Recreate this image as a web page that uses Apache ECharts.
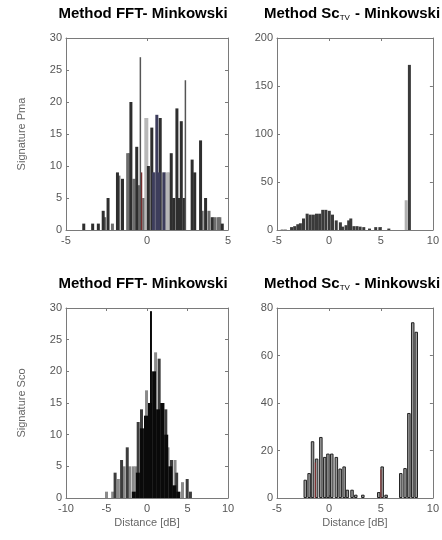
<!DOCTYPE html>
<html><head><meta charset="utf-8">
<script src="https://cdn.jsdelivr.net/npm/echarts@6/dist/echarts.min.js"></script>
<style>html,body{margin:0;padding:0;background:#fff}#c{width:442px;height:540px}</style>
</head><body><div id="c"></div>
<script>
// ---- Texts ----
const panelTitles = [
  '{a|Method FFT- Minkowski}',
  '{a|Method Sc}{s|TV}{a| - Minkowski}',
  '{a|Method FFT- Minkowski}',
  '{a|Method Sc}{s|TV}{a| - Minkowski}'
];
const yNames = ['Signature Pma', '', 'Signature Sco', ''];
const xNames = ['', '', 'Distance [dB]', 'Distance [dB]'];

// ---- Axis ranges [min, max, interval] ----
const xRanges = [[-5, 5, 5], [-5, 10, 5], [-10, 10, 5], [-5, 10, 5]];
const yRanges = [[0, 30, 5], [0, 200, 50], [0, 30, 5], [0, 80, 20]];

// ---- Panel 1: FFT, Signature Pma ----
const pmaFftDark = [[-3.95,1],[-3.4,1],[-3.05,1],[-2.75,3],[-2.45,5],[-1.87,9],[-1.56,8],[-1.04,20],[-0.68,13],
  [0.04,10],[0.25,16],[0.77,17.5],[1.45,12],[1.8,19],[2.07,17],[1.6,5],[1.95,5],[2.25,5],[2.74,11],[2.9,9],
  [3.26,14],[3.57,5],[3.98,2],[4.6,1]];
const pmaFftGray = [[-2.66,2],[-2.18,1],[-1.78,8.5],[-1.24,12],[-1.15,12],[-0.85,8],[-0.55,7],[-0.25,5],
  [3.36,3],[3.78,3],[4.15,2],[4.35,2],[4.45,2]];
const pmaFftLight = [[-0.12,17.5],[0.42,9],[0.95,9],[1.15,9],[1.3,9]];
const pmaFftBlue = [[0.56,18],[0.35,9],[0.7,9],[1.0,9]];
const pmaFftRed = [[-0.37,9]];
const pmaFftThin = [[-0.41,27],[2.37,23.4]];

// ---- Panel 2: ScTV, Signature Pma ----
const pmaTvDark = [[-3.6,3],[-3.3,4],[-3.0,6],[-2.75,7],[-2.45,12],[-2.1,17],[-1.8,16],[-1.5,16],[-1.2,17],
  [-0.9,17],[-0.6,21],[-0.3,21],[0.03,20],[0.34,16],[0.7,10],[1.1,8],[1.3,3.5],[1.64,5],[1.9,10],[2.1,12],
  [2.4,4],[2.7,4],[3.0,3.5],[3.35,3],[3.9,1.5],[4.5,3],[4.9,3],[5.76,1.5],[7.74,172]];
const pmaTvLight = [[-4.5,1],[-4.2,1],[7.43,31]];

// ---- Panel 3: FFT, Signature Sco ----
const scoFftGray = [[-5.06,1],[-4.3,1],[-3.6,3],[-2.9,5],[-2.2,5],[-1.77,5],[-1.44,5],[-0.12,17],[1.0,23],
  [2.53,8],[3.4,6],[4.32,2.5]];
const scoFftDark = [[-4.0,4],[-3.2,6],[-2.5,8],[-1.15,12],[-0.74,14],[1.44,22],[1.9,15],[2.26,14],[2.96,6],
  [3.6,4],[4.9,3],[5.3,1]];
const scoFftBlack = [[-1.75,1],[-1.25,4],[-0.75,11],[-0.25,13],[0.25,15],[0.75,20],[1.25,14],[1.75,15],
  [2.25,10],[2.75,5],[3.25,2],[3.75,1]];
const scoFftPeak = [[0.49,29.5]];

// ---- Panel 4: ScTV, Signature Sco ----
const scoTv = [[-2.4,7.7],[-2.03,10.5],[-1.7,23.9],[-1.31,16.6],[-0.9,25.7],[-0.53,17.3],[-0.22,18.7],[0.15,18.7],
  [0.59,17.3],[0.96,12.4],[1.34,13.3],[1.65,3.5],[2.1,3.5],[2.46,1.4],[3.14,1.4],[4.67,2.5],[5.0,13.3],
  [5.38,1.4],[6.79,10.5],[7.2,12.6],[7.57,35.8],[7.94,74],[8.28,70]];
const scoTvRed = [[-1.31,15],[5.0,12]];

// ---- Layout ----
const grids = [
  {left: 66, top: 38, width: 162, height: 192},
  {left: 277, top: 38, width: 161, height: 192},
  {left: 66, top: 308, width: 162, height: 190},
  {left: 277, top: 308, width: 161, height: 190}
];
const titlePos = [[143, 14], [352, 14], [143, 284], [352, 284]];
const lineCol = '#7a7a7a';
const labelStyle = {color: '#555', fontSize: 11, fontFamily: 'Liberation Sans'};
const nameStyle = {color: '#666', fontSize: 11, fontFamily: 'Liberation Sans'};

const xAxes = [], yAxes = [];
grids.forEach((g, i) => {
  const [xmin, xmax, xint] = xRanges[i];
  const [ymin, ymax, yint] = yRanges[i];
  xAxes.push({type: 'value', gridIndex: i, min: xmin, max: xmax, interval: xint, position: 'bottom',
    axisLine: {show: true, onZero: false, lineStyle: {color: lineCol, width: 1}}, axisTick: {show: true, inside: true, length: 3, lineStyle: {color: lineCol}},
    splitLine: {show: false}, axisLabel: Object.assign({margin: 5}, labelStyle),
    name: xNames[i], nameLocation: 'middle', nameGap: 19, nameTextStyle: nameStyle});
  yAxes.push({type: 'value', gridIndex: i, min: ymin, max: ymax, interval: yint, position: 'left',
    axisLine: {show: true, onZero: false, lineStyle: {color: lineCol, width: 1}}, axisTick: {show: true, inside: true, length: 3, lineStyle: {color: lineCol}},
    splitLine: {show: false}, axisLabel: Object.assign({margin: 4}, labelStyle),
    name: yNames[i], nameLocation: 'middle', nameGap: 39, nameRotate: 90, nameTextStyle: nameStyle});
});
grids.forEach((g, i) => {
  const [xmin, xmax, xint] = xRanges[i];
  const [ymin, ymax, yint] = yRanges[i];
  xAxes.push({type: 'value', gridIndex: i, min: xmin, max: xmax, interval: xint, position: 'top',
    axisLine: {show: true, onZero: false, lineStyle: {color: lineCol, width: 1}}, axisTick: {show: true, inside: true, length: 3, lineStyle: {color: lineCol}},
    splitLine: {show: false}, axisLabel: {show: false}});
  yAxes.push({type: 'value', gridIndex: i, min: ymin, max: ymax, interval: yint, position: 'right',
    axisLine: {show: true, onZero: false, lineStyle: {color: lineCol, width: 1}}, axisTick: {show: true, inside: true, length: 3, lineStyle: {color: lineCol}},
    splitLine: {show: false}, axisLabel: {show: false}});
});

function bars(gi, data, color, width, border) {
  return {type: 'bar', xAxisIndex: gi, yAxisIndex: gi, data: data, barWidth: width, barGap: '-100%',
    silent: true, animation: false,
    itemStyle: {color: color, borderColor: border || color, borderWidth: border ? 1 : 0}};
}

const series = [
  bars(0, pmaFftGray, '#6e6e6e', 3),
  bars(0, pmaFftLight, '#b8b8b8', 4),
  bars(0, pmaFftDark, '#2e2e2e', 3),
  bars(0, pmaFftBlue, '#3d3d5c', 3),
  bars(0, pmaFftRed, '#7a2a2a', 2),
  bars(0, pmaFftThin, '#555555', 1.5),
  bars(1, pmaTvLight, '#b0b0b0', 3),
  bars(1, pmaTvDark, '#3a3a3a', 3),
  bars(2, scoFftGray, '#8a8a8a', 3),
  bars(2, scoFftDark, '#3c3c3c', 3),
  bars(2, scoFftBlack, '#0a0a0a', 4),
  bars(2, scoFftPeak, '#0a0a0a', 2),
  bars(3, scoTv, '#9a9a9a', 3.5, '#222'),
  bars(3, scoTvRed, '#8a3030', 1)
];

const richStyle = {
  a: {fontSize: 15, fontWeight: 'bold', fontFamily: 'Liberation Sans', color: '#111'},
  s: {fontSize: 8, fontFamily: 'Liberation Sans', color: '#333', verticalAlign: 'bottom', padding: [6, 1, 0, 0]}
};
const graphic = panelTitles.map((t, i) => ({
  type: 'text', x: titlePos[i][0], y: titlePos[i][1], silent: true,
  style: {text: t, rich: richStyle, align: 'center', verticalAlign: 'middle'}
}));

const chart = echarts.init(document.getElementById('c'), null, {renderer: 'canvas'});
chart.setOption({
  backgroundColor: '#fff',
  animation: false,
  grid: grids,
  xAxis: xAxes,
  yAxis: yAxes,
  series: series,
  graphic: graphic
});
</script></body></html>
